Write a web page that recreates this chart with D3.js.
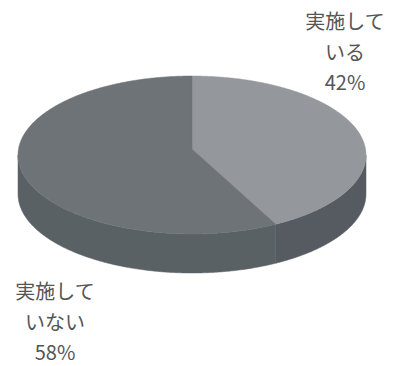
<!DOCTYPE html>
<html><head><meta charset="utf-8">
<script src="https://cdn.jsdelivr.net/npm/d3@7/dist/d3.min.js"></script>
<style>html,body{margin:0;padding:0;background:#fff;}svg{display:block;}</style>
</head><body>
<svg id="c" width="394" height="366"></svg>
<script>
const categories = ["実施している", "実施していない"];
const labelLines = [["実施して", "いる", "42%"], ["実施して", "いない", "58%"]];
const values = [42, 58];
const topColors = ["#94989c", "#6d7377"];
const sideColors = ["#555b60", "#5a6165"];

const W = 394, H = 366;
const cx = 192, cy = 155, rx = 174, ry = 79, depth = 39, apexY = 149;
const svg = d3.select("#c");

const pie = d3.pie().sort(null).value(d => d).startAngle(0).endAngle(2 * Math.PI);
const arcs = pie(values);

const px = a => cx + rx * Math.sin(a);
const py = a => cy - ry * Math.cos(a);
const line = d3.line().x(d => d[0]).y(d => d[1]);

function rim(a0, a1, dy) {
  const n = Math.max(2, Math.ceil(Math.abs(a1 - a0) / 0.01));
  const pts = [];
  for (let i = 0; i <= n; i++) {
    const a = a0 + (a1 - a0) * i / n;
    pts.push([px(a), py(a) + dy]);
  }
  return pts;
}

// sides (front half: angles between PI/2 and 3PI/2)
arcs.forEach((d, i) => {
  const s = Math.max(d.startAngle, Math.PI / 2);
  const e = Math.min(d.endAngle, 3 * Math.PI / 2);
  if (e <= s) return;
  const pts = rim(s, e, 0).concat(rim(e, s, depth));
  svg.append("path").attr("d", line(pts) + "Z").attr("fill", sideColors[i]).attr("stroke", sideColors[i]).attr("stroke-width", 0.5);
});

// top faces
arcs.forEach((d, i) => {
  const pts = [[cx, apexY]].concat(rim(d.startAngle, d.endAngle, 0));
  svg.append("path").attr("d", line(pts) + "Z").attr("fill", topColors[i]).attr("stroke", topColors[i]).attr("stroke-width", 0.5);
});

// labels
const labelPos = [[345, 22], [55, 292]];
arcs.forEach((d, i) => {
  const t = svg.append("text")
    .attr("text-anchor", "middle")
    .attr("font-family", "'Noto Sans CJK JP', 'Noto Sans', sans-serif")
    .attr("font-size", 20)
    .attr("fill", "#555555");
  labelLines[i].forEach((s, k) => {
    t.append("tspan").attr("x", labelPos[i][0]).attr("y", labelPos[i][1] + k * 30.5)
      .attr("dy", "0.35em").text(s);
  });
});
</script>
</body></html>
